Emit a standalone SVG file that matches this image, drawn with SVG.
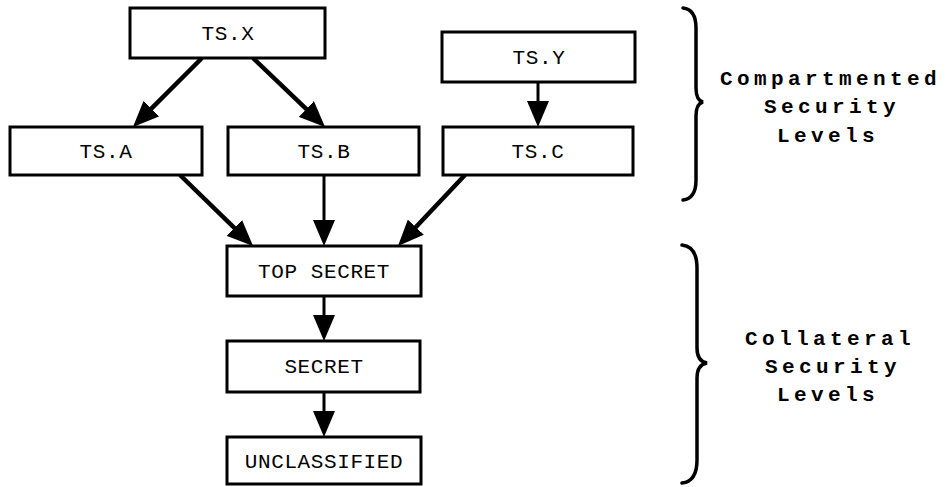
<svg xmlns="http://www.w3.org/2000/svg" width="946" height="487" viewBox="0 0 946 487">
  <style>
    .box { fill: #ffffff; stroke: #000000; stroke-width: 3; }
    .lbl { font-family: "Liberation Mono", "DejaVu Sans Mono", monospace; font-size: 21px; letter-spacing: 0.6px; text-anchor: middle; fill: #000000; }
    .edge { fill: none; stroke: #000000; stroke-width: 4.5; marker-end: url(#head); }
    .edge.thin { stroke-width: 3; }
    .brace { fill: none; stroke: #000000; stroke-width: 3.5; stroke-linecap: round; }
    .group { font-family: "Liberation Mono", "DejaVu Sans Mono", monospace; font-weight: bold; font-size: 21px; letter-spacing: 4.4px; fill: #000000; }
  </style>
  <defs>
    <marker id="head" markerUnits="userSpaceOnUse" markerWidth="26" markerHeight="22" refX="6" refY="11" orient="auto">
      <path d="M0,0 L26,11 L0,22 Z" fill="#000000"/>
    </marker>
  </defs>
  <rect width="946" height="487" fill="#ffffff"/>

  <!-- connectors: each line stops short of the target so the head tip lands on the box edge -->
  <g id="connectors">
    <path class="edge" d="M202,58 L147.1,112.9"/>
    <path class="edge" d="M253,58 L310.6,113.2"/>
    <path class="edge thin" d="M538,82 L538,107"/>
    <path class="edge" d="M180,175 L238.7,232.1"/>
    <path class="edge thin" d="M324,175 L324,226"/>
    <path class="edge" d="M465,175 L411.7,231.5"/>
    <path class="edge thin" d="M324,296 L324,321"/>
    <path class="edge thin" d="M324,392 L324,417"/>
  </g>

  <g id="ts-x">
    <rect class="box" x="130" y="8" width="195" height="50"/>
    <text class="lbl" x="228" y="40">TS.X</text>
  </g>
  <g id="ts-y">
    <rect class="box" x="442" y="32" width="193" height="50"/>
    <text class="lbl" x="539" y="64">TS.Y</text>
  </g>
  <g id="ts-a">
    <rect class="box" x="10" y="127" width="192" height="48"/>
    <text class="lbl" x="106" y="158">TS.A</text>
  </g>
  <g id="ts-b">
    <rect class="box" x="228" y="127" width="191" height="48"/>
    <text class="lbl" x="324" y="158">TS.B</text>
  </g>
  <g id="ts-c">
    <rect class="box" x="443" y="127" width="190" height="48"/>
    <text class="lbl" x="538" y="158">TS.C</text>
  </g>
  <g id="top-secret">
    <rect class="box" x="227" y="246" width="194" height="50"/>
    <text class="lbl" x="324" y="278">TOP SECRET</text>
  </g>
  <g id="secret">
    <rect class="box" x="227" y="341" width="193" height="51"/>
    <text class="lbl" x="324" y="373">SECRET</text>
  </g>
  <g id="unclassified">
    <rect class="box" x="227" y="437" width="194" height="47"/>
    <text class="lbl" x="324" y="468">UNCLASSIFIED</text>
  </g>

  <!-- grouping braces with their captions -->
  <g id="compartmented">
    <path class="brace" d="M683,8 C692,9 696,16 696,28 L696,88 C696,96 699,101 703,102 C699,103 696,108 696,116 L696,180 C696,192 692,199 683,200"/>
    <text class="group" x="720" y="85">Compartmented</text>
    <text class="group" x="764" y="113">Security</text>
    <text class="group" x="777" y="142">Levels</text>
  </g>
  <g id="collateral">
    <path class="brace" d="M682,245 C692,246 697,254 697,268 L697,348 C697,357 701,362 707,363 C701,364 697,369 697,378 L697,460 C697,474 692,482 682,483"/>
    <text class="group" x="745" y="345">Collateral</text>
    <text class="group" x="765" y="373">Security</text>
    <text class="group" x="777" y="401">Levels</text>
  </g>
</svg>
